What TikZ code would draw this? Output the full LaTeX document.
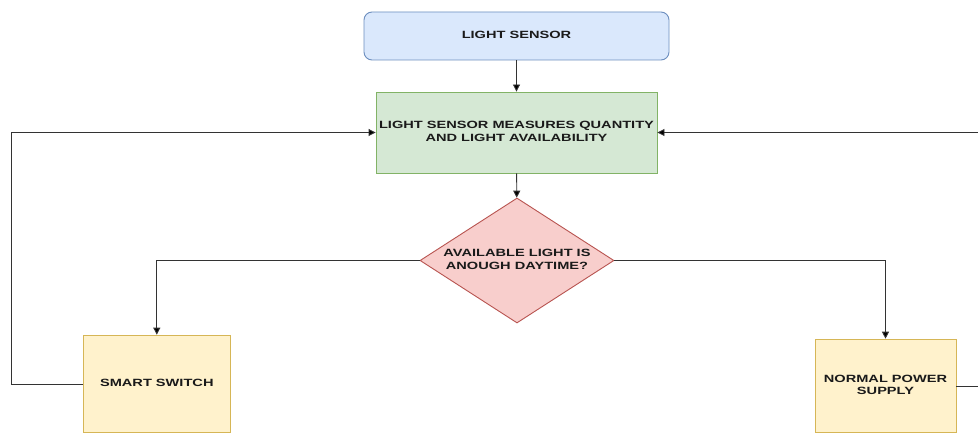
\documentclass[tikz,border=0pt]{standalone}
\usepackage{fontspec}
\setmainfont{Liberation Sans}
\usetikzlibrary{shapes.geometric,arrows.meta}

\definecolor{sensorfill}{HTML}{DAE8FC}
\definecolor{sensordraw}{HTML}{6C8EBF}
\definecolor{measfill}{HTML}{D5E8D4}
\definecolor{measdraw}{HTML}{82B366}
\definecolor{decfill}{HTML}{F8CECC}
\definecolor{decdraw}{HTML}{B85450}
\definecolor{actfill}{HTML}{FFF2CC}
\definecolor{actdraw}{HTML}{D6B656}
\definecolor{txt}{HTML}{1A1A1A}
\definecolor{wire}{HTML}{333333}

% bold caps, slightly widened
\newcommand{\lbl}[1]{\scalebox{1.39}[1]{\bfseries\fontsize{10.5}{12.5}\selectfont\begin{tabular}{@{}c@{}}#1\end{tabular}}}

\tikzset{
  base/.style={draw, line width=0.9pt, inner sep=0pt, text=txt, align=center},
  sensorbox/.style={base, rectangle, rounded corners=8pt, fill=sensorfill, draw=sensordraw,
    minimum width=305pt, minimum height=48pt},
  measbox/.style={base, rectangle, fill=measfill, draw=measdraw,
    minimum width=281pt, minimum height=81pt},
  decbox/.style={base, diamond, aspect=1.55, fill=decfill, draw=decdraw,
    minimum width=194pt, minimum height=125pt},
  actbox/.style={base, rectangle, fill=actfill, draw=actdraw},
  wire/.style={draw=wire, line width=0.9pt, -{Triangle[length=7pt,width=7pt,fill=black]}},
  plain/.style={draw=wire, line width=0.9pt}
}

\begin{document}
\begin{tikzpicture}[x=1pt,y=-1pt]
\useasboundingbox[fill=white] (0,0) rectangle (978,433);

\node[sensorbox] (sensor) at (516.5,36) {\lbl{LIGHT SENSOR}};
\node[measbox] (measure) at (516.5,132.5) {\lbl{LIGHT SENSOR MEASURES QUANTITY\\AND LIGHT AVAILABILITY}};
\node[decbox] (check) at (517,260.5) {\lbl{AVAILABLE LIGHT IS\\ANOUGH DAYTIME?}};
\node[actbox, minimum width=147.7pt, minimum height=97.7pt] (switch) at (156.8,384) {\lbl{SMART SWITCH}};
\node[actbox, minimum width=141pt, minimum height=93.7pt] (supply) at (885.5,386) {\lbl{NORMAL POWER\\SUPPLY}};

\coordinate (loopL) at (11,0);
\coordinate (loopR) at (992,0);

\path[wire] (sensor) -- (measure);
\path[wire] (measure) -- (check);
\path[wire] (check.west) -| (switch.north);
\path[wire] (check.east) -| (supply.north);
\path[wire] (switch.west) -- (switch.west -| loopL) |- (measure.west);
\path[wire] (supply.east) -- (supply.east -| loopR) |- (measure.east);
\end{tikzpicture}
\end{document}
